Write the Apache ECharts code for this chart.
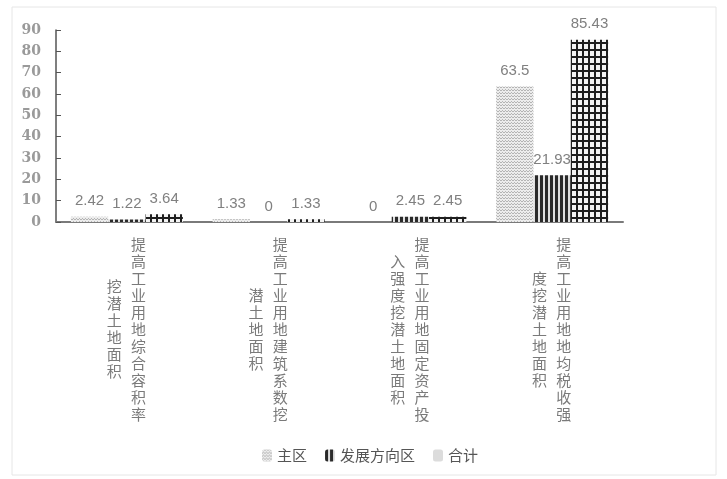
<!DOCTYPE html>
<html><head><meta charset="utf-8">
<script src="https://cdn.jsdelivr.net/npm/echarts@6/dist/echarts.min.js"></script>
<style>html,body{margin:0;padding:0;background:#fff}#c{width:727px;height:479px}</style>
</head><body><div id="c"></div>
<script>
// ---- data ----
const categories = [
  '提高工业用地综合容积率挖潜土地面积',
  '提高工业用地建筑系数挖潜土地面积',
  '提高工业用地固定资产投入强度挖潜土地面积',
  '提高工业用地地均税收强度挖潜土地面积'
];
const seriesNames = ['主区', '发展方向区', '合计'];
const mainArea = [2.42, 1.33, 0, 63.5];
const devArea = [1.22, 0, 2.45, 21.93];
const total = [3.64, 1.33, 2.45, 85.43];
const yTicks = {min: 0, max: 90, interval: 10};
const firstColumnLength = 11;

// ---- patterns ----
function pattern(w, h, draw) {
  const c = document.createElement('canvas');
  c.width = w; c.height = h;
  const ctx = c.getContext('2d');
  draw(ctx);
  return {image: c, repeat: 'repeat'};
}
const dotPattern = pattern(3, 3, ctx => {
  ctx.fillStyle = '#ececec'; ctx.fillRect(0, 0, 3, 3);
  ctx.fillStyle = '#b4b4b4'; ctx.fillRect(0, 0, 1, 1); ctx.fillRect(2, 0, 1, 1);
  ctx.fillRect(1, 2, 1, 1);
});
const stripePattern = pattern(5, 4, ctx => {
  ctx.fillStyle = '#e0e0e0'; ctx.fillRect(0, 0, 5, 4);
  ctx.fillStyle = '#2a2a2a'; ctx.fillRect(0, 0, 3, 4);
});
const gridPattern = pattern(6, 7, ctx => {
  ctx.fillStyle = '#f4f4f4'; ctx.fillRect(0, 0, 6, 7);
  ctx.fillStyle = '#1e1e1e'; ctx.fillRect(0, 0, 6, 2); ctx.fillRect(0, 0, 2, 7);
});
const patterns = [dotPattern, stripePattern, gridPattern];
const values = [mainArea, devArea, total];

const chart = echarts.init(document.getElementById('c'));
const catFont = {fontFamily: 'Noto Sans CJK SC', fontSize: 15, lineHeight: 17, color: '#7a7a7a'};
const vert = s => s.split('').join('\n');

chart.setOption({
  backgroundColor: '#fff',
  animation: false,
  graphic: [{type: 'rect', shape: {x: 12, y: 7, width: 704, height: 468},
    style: {fill: 'none', stroke: '#e6e6e6', lineWidth: 1}, silent: true}],
  grid: {left: 56, right: 104, top: 30, bottom: 257},
  legend: {
    left: 257, top: 443, itemWidth: 10, itemHeight: 12, itemGap: 18,
    textStyle: {fontFamily: 'Noto Sans CJK SC', fontSize: 15, color: '#555'},
    data: [
      {name: seriesNames[0]},
      {name: seriesNames[1]},
      {name: seriesNames[2], itemStyle: {color: '#dcdcdc'}}
    ]
  },
  xAxis: [{
    type: 'category', data: categories, position: 'bottom',
    axisLine: {lineStyle: {color: '#7a7a7a', width: 2}},
    axisTick: {show: false},
    axisLabel: Object.assign({interval: 0, margin: 107, align: 'left', verticalAlign: 'middle',
      padding: [0, 0, 0, 4], formatter: v => vert(v.slice(0, firstColumnLength))}, catFont)
  }, {
    type: 'category', data: categories, position: 'bottom',
    axisLine: {show: false}, axisTick: {show: false},
    axisLabel: Object.assign({interval: 0, margin: 107, align: 'right', verticalAlign: 'middle',
      padding: [0, 5, 0, 0], formatter: v => vert(v.slice(firstColumnLength))}, catFont)
  }],
  yAxis: {
    type: 'value', min: yTicks.min, max: yTicks.max, interval: yTicks.interval,
    axisLine: {show: true, lineStyle: {color: '#555', width: 1.5}},
    axisTick: {show: true, inside: true, length: 5, lineStyle: {color: '#555'}},
    splitLine: {show: false},
    axisLabel: {margin: 15, fontFamily: 'DejaVu Serif', fontWeight: 'bold', fontSize: 14, color: '#9a9a9a'}
  },
  series: seriesNames.map((name, i) => ({
    name, type: 'bar', xAxisIndex: 0, data: values[i],
    barGap: '0%', barCategoryGap: '21%',
    itemStyle: {color: patterns[i]},
    label: {show: true, position: 'top', distance: 8, fontFamily: 'Liberation Sans', fontSize: 15, color: '#808080'}
  }))
});
</script></body></html>
